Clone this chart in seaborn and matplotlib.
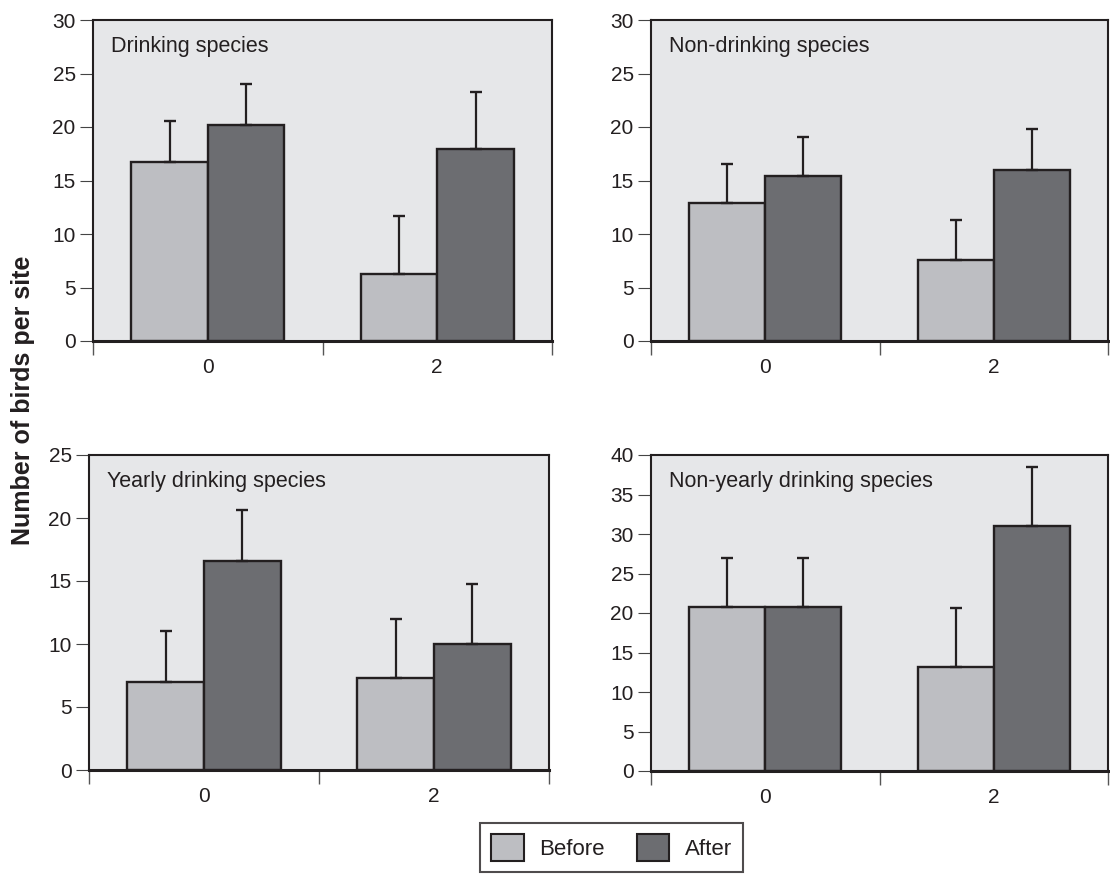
import matplotlib
matplotlib.use("Agg")
import matplotlib.pyplot as plt
import seaborn as sns
import numpy as np
import pandas as pd
from matplotlib.patches import Patch

# Mean number of birds per site, before and after, for two periods (0 and 2)
periods = ["0", "2"]
phases = ["Before", "After"]

drinking_before = [16.7, 6.3]
drinking_before_se = [3.9, 5.4]
drinking_after = [20.2, 17.9]
drinking_after_se = [3.8, 5.4]

nondrinking_before = [12.9, 7.6]
nondrinking_before_se = [3.6, 3.7]
nondrinking_after = [15.4, 16.0]
nondrinking_after_se = [3.7, 3.8]

yearly_before = [7.0, 7.3]
yearly_before_se = [4.0, 4.7]
yearly_after = [16.6, 10.0]
yearly_after_se = [4.0, 4.8]

nonyearly_before = [20.8, 13.2]
nonyearly_before_se = [6.1, 7.4]
nonyearly_after = [20.8, 31.0]
nonyearly_after_se = [6.1, 7.5]

panel_titles = ["Drinking species", "Non-drinking species",
                "Yearly drinking species", "Non-yearly drinking species"]
panel_ymax = [30, 30, 25, 40]

panels = [
    (drinking_before, drinking_before_se, drinking_after, drinking_after_se),
    (nondrinking_before, nondrinking_before_se, nondrinking_after, nondrinking_after_se),
    (yearly_before, yearly_before_se, yearly_after, yearly_after_se),
    (nonyearly_before, nonyearly_before_se, nonyearly_after, nonyearly_after_se),
]

INK = "#231F20"
BG = "#E6E7E9"
C_BEFORE = "#BDBEC2"
C_AFTER = "#6C6D71"

sns.set_theme(style="white")
plt.rcParams["font.family"] = ["Liberation Sans", "DejaVu Sans"]
plt.rcParams["text.color"] = INK
plt.rcParams["axes.labelcolor"] = INK

W, H = 1110, 875
fig = plt.figure(figsize=(W / 100, H / 100), dpi=100)

# axes rectangles in pixels: left, right, top, bottom
boxes_px = [
    (93, 552, 20, 341),
    (651, 1108, 20, 341),
    (89, 549, 455, 770),
    (651, 1108, 455, 771),
]

for (b_vals, b_se, a_vals, a_se), title, ymax, (l, r, t, b) in zip(
        panels, panel_titles, panel_ymax, boxes_px):
    ax = fig.add_axes([l / W, 1 - b / H, (r - l) / W, (b - t) / H])
    ax.set_facecolor(BG)

    df = pd.DataFrame({
        "period": periods * 2,
        "phase": [phases[0]] * 2 + [phases[1]] * 2,
        "count": list(b_vals) + list(a_vals),
    })
    sns.barplot(data=df, x="period", y="count", hue="phase",
                order=periods, hue_order=phases,
                palette=[C_BEFORE, C_AFTER], errorbar=None,
                width=2 / 3, edgecolor=INK, linewidth=1.7,
                saturation=1, legend=False, ax=ax)

    # one-sided (upper) error bars on top of each bar
    for container, se in zip(ax.containers, [b_se, a_se]):
        xs = [p.get_x() + p.get_width() / 2 for p in container.patches]
        ys = [p.get_height() for p in container.patches]
        ax.errorbar(xs, ys, yerr=[np.zeros(len(se)), se], fmt="none",
                    ecolor=INK, elinewidth=1.6, capsize=4.5, capthick=1.7,
                    zorder=1)

    ax.set_xlim(-0.5, 1.5)
    ax.set_ylim(0, ymax)
    ax.set_yticks(np.arange(0, ymax + 1, 5))
    ax.set_xlabel("")
    ax.set_ylabel("")

    ax.set_xticks([0, 1])
    ax.set_xticklabels(periods)
    ax.set_xticks([-0.5, 0.5, 1.5], minor=True)
    ax.tick_params(axis="x", which="major", length=0, pad=12,
                   labelsize=15, labelcolor=INK)
    ax.tick_params(axis="x", which="minor", length=10, width=1.0,
                   color="#555555", direction="out", bottom=True)
    ax.tick_params(axis="y", which="major", length=9.5, width=0.8,
                   color="#444444", direction="out", left=True, pad=3,
                   labelsize=15, labelcolor=INK)

    for side, sp in ax.spines.items():
        sp.set_visible(True)
        sp.set_color(INK)
        sp.set_linewidth(1.5)
    ax.spines["bottom"].set_linewidth(2.2)

    ax.annotate(title, xy=(0, 1), xycoords="axes fraction",
                xytext=(13, -19), textcoords="offset points",
                ha="left", va="center", fontsize=15.5, color=INK)

fig.text(0.021, 0.543, "Number of birds per site", rotation=90,
         ha="center", va="center", fontsize=18, fontweight="bold", color=INK)

handles = [Patch(facecolor=C_BEFORE, edgecolor=INK, linewidth=1.5),
           Patch(facecolor=C_AFTER, edgecolor=INK, linewidth=1.5)]
leg = fig.legend(handles, phases, loc="upper center",
                 bbox_to_anchor=(611.5 / W, 1 - 823 / H),
                 bbox_transform=fig.transFigure, ncol=2, fontsize=16,
                 frameon=True, fancybox=False, handlelength=1.45,
                 handleheight=1.45, handletextpad=0.7, columnspacing=1.45,
                 borderpad=0.5, borderaxespad=0)
leg.get_frame().set_edgecolor(INK)
leg.get_frame().set_linewidth(1.5)
leg.get_frame().set_facecolor("white")

fig.savefig("out.png", dpi=100, facecolor="white")
